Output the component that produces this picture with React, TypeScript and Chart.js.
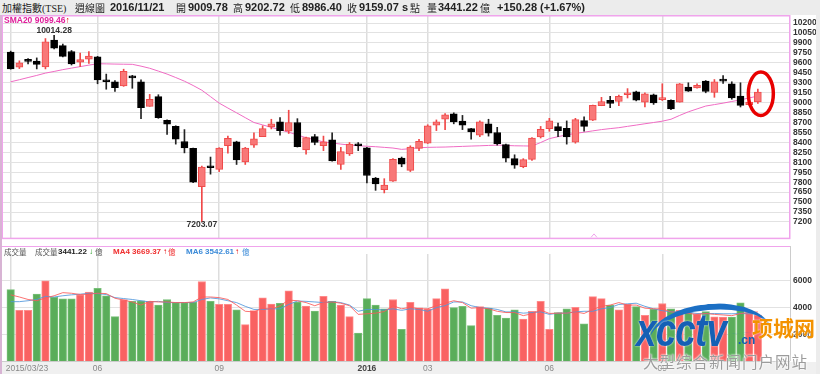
import React, { useEffect, useRef } from 'react';
import { Chart, registerables } from 'chart.js';

Chart.register(...registerables);

// ---------------- data (weekly candles, TAIEX) ----------------
const lastDate = '2016/11/21';
const opens = [9762, 9533, 9628, 9625, 9538, 9942, 9859, 9771, 9611, 9655,
  9689, 9328, 9314, 9250, 9387, 9314, 8944, 9090, 8734, 8642,
  8413, 8310, 7731, 8033, 7994, 8349, 8408, 8106, 8359, 8486,
  8632, 8710, 8569, 8700, 8286, 8486, 8349, 8437, 8067, 8228,
  8374, 8320, 7862, 7687, 7814, 8164, 7979, 8310, 8388, 8661,
  8749, 8831, 8720, 8607, 8510, 8681, 8549, 8369, 8155, 8033,
  8145, 8481, 8607, 8637, 8612, 8403, 8729, 8734, 8953, 9036,
  9017, 9119, 9163, 9007, 9119, 9046, 9036, 9007, 9236, 9221,
  9323, 9153, 9338, 9284, 9099, 8968, 9009.78];
const highs = [9776, 9630, 9664, 9674, 9966, 10014.28, 9883, 9786, 9747, 9771,
  9698, 9430, 9333, 9504, 9411, 9343, 9124, 9119, 8739, 8651,
  8593, 8315, 8043, 8179, 8320, 8495, 8418, 8325, 8544, 8651,
  8749, 8773, 8885, 8758, 8481, 8520, 8495, 8544, 8325, 8398,
  8398, 8325, 7872, 7853, 8155, 8179, 8349, 8447, 8666, 8739,
  8836, 8846, 8807, 8612, 8724, 8749, 8627, 8374, 8213, 8155,
  8471, 8641, 8763, 8690, 8724, 8763, 8787, 8963, 9080, 9095,
  9114, 9211, 9173, 9148, 9129, 9284, 9041, 9289, 9299, 9284,
  9333, 9348, 9406, 9314, 9299, 9022, 9202.72];
const lows = [9504, 9513, 9582, 9508, 9508, 9810, 9689, 9567, 9543, 9591,
  9284, 9202, 9168, 9245, 9216, 8758, 8944, 8763, 8520, 8374,
  8242, 7794, 7203.07, 7921, 7960, 8237, 8067, 8067, 8325, 8486,
  8603, 8510, 8534, 8330, 8223, 8364, 8276, 8116, 7994, 8203,
  8276, 7789, 7677, 7638, 7810, 8033, 7960, 8276, 8383, 8578,
  8593, 8680, 8593, 8447, 8486, 8495, 8359, 8106, 8009, 8018,
  8130, 8466, 8568, 8486, 8374, 8388, 8568, 8729, 8953, 8924,
  8953, 9070, 9026, 8934, 8973, 9031, 8895, 9007, 9168, 9216,
  9148, 9080, 9289, 9051, 8934, 8960, 8986.40];
const closes = [9508, 9601, 9622, 9577, 9918, 9820, 9698, 9582, 9650, 9703,
  9343, 9314, 9226, 9470, 9372, 8924, 9051, 8773, 8676, 8447,
  8315, 7799, 8028, 8018, 8315, 8461, 8135, 8315, 8452, 8607,
  8681, 8578, 8700, 8335, 8471, 8398, 8408, 8120, 8262, 8374,
  8349, 7901, 7775, 7755, 8145, 8072, 8330, 8417, 8651, 8710,
  8817, 8710, 8661, 8559, 8710, 8539, 8379, 8164, 8057, 8140,
  8466, 8598, 8724, 8578, 8481, 8744, 8642, 8958, 9017, 8987,
  9095, 9139, 9036, 9134, 8997, 9060, 8905, 9284, 9172, 9260,
  9168, 9314, 9323, 9070, 8958, 9008.79, 9159.07];
const prevCloseBeforeFirst = 9760;
const sma20 = [9314, 9345, 9378, 9410, 9445, 9470, 9497, 9520, 9543, 9565,
  9586, 9584, 9581, 9579, 9577, 9550, 9518, 9475, 9430, 9378,
  9323, 9258, 9187, 9090, 8992, 8918, 8846, 8773, 8700, 8664,
  8627, 8590, 8554, 8512, 8471, 8440, 8408, 8391, 8374, 8361,
  8349, 8342, 8335, 8325, 8315, 8295, 8305, 8320, 8325, 8328,
  8330, 8335, 8340, 8345, 8349, 8354, 8359, 8354, 8349, 8347,
  8345, 8398, 8457, 8486, 8515, 8535, 8554, 8574, 8593, 8608,
  8622, 8642, 8661, 8681, 8700, 8720, 8749, 8807, 8861, 8905,
  8948, 8970, 8992, 9017, 9041, 9070, 9099.46];
const volumes = [5347, 3790, 3790, 5000, 6000, 4766, 4650, 4650, 4952, 5162,
  5440, 4883, 3325, 4604, 4464, 4511, 4464, 4185, 4604, 4371,
  4371, 4418, 5952, 4464, 4232, 4232, 3836, 2720, 3767, 4720,
  4255, 4325, 5255, 4418, 4115, 3743, 4836, 4464, 4185, 3325,
  2093, 4673, 4185, 3906, 4604, 2372, 4394, 3976, 3906, 4673,
  5394, 3999, 4092, 2650, 4069, 3953, 3418, 3209, 3836, 3139,
  3720, 4464, 2372, 3627, 3906, 4022, 2790, 4813, 4673, 4185,
  3836, 4255, 4069, 3418, 3860, 4301, 3900, 3790, 3600, 3500,
  3700, 3300, 3278, 3292, 4344, 3600, 3441.22];
const ma4 = [4952, 4790, 4604, 4511, 4720, 4883, 5115, 5069, 4976, 4999,
  5069, 5045, 4697, 4557, 4418, 4185, 4464, 4418, 4418, 4371,
  4371, 4418, 4790, 4790, 4743, 4604, 4185, 3720, 3674, 3953,
  3860, 4139, 4557, 4511, 4371, 4139, 4371, 4418, 4325, 4139,
  3488, 3534, 3581, 3700, 4139, 3906, 4022, 3906, 3906, 4139,
  4325, 4511, 4371, 3953, 3999, 3906, 3720, 3627, 3627, 3395,
  3534, 3813, 3557, 3581, 3581, 3674, 3557, 3860, 4092, 4185,
  4371, 4185, 4185, 3953, 3906, 3906, 3674, 3627, 3557, 3488,
  3557, 3488, 3444, 3392, 3553, 3628, 3669.37];
const ma6 = [4441, 4441, 4511, 4604, 4836, 4790, 4883, 4952, 4999, 5069,
  5045, 4976, 4743, 4673, 4604, 4511, 4418, 4464, 4371, 4371,
  4371, 4371, 4604, 4720, 4650, 4511, 4371, 4092, 3860, 3860,
  3906, 3906, 4232, 4488, 4464, 4418, 4371, 4441, 4371, 4185,
  3720, 3860, 3860, 3813, 3906, 3790, 3906, 3860, 3720, 3999,
  4139, 4418, 4418, 4139, 3999, 3953, 3860, 3674, 3674, 3581,
  3627, 3674, 3488, 3581, 3581, 3674, 3720, 3720, 3906, 3999,
  4232, 4278, 4325, 4092, 3906, 3767, 3674, 3674, 3627, 3557,
  3534, 3557, 3534, 3534, 3557, 3534, 3542.61];
const ma4Prev = 3627.9;
const ma6Prev = 3534.0;
const volPrev = 3600;

const priceTicks = [7200, 7350, 7500, 7650, 7800, 7950, 8100, 8250, 8400, 8550, 8700,
  8850, 9000, 9150, 9300, 9450, 9600, 9750, 9900, 10050, 10200];
const volumeTicks = [2000, 4000, 6000];
const xTickIndex = [0, 10, 24, 41, 48, 62, 75];
const xTickLabels = ['2015/03/23', '06', '09', '2016', '03', '06', '09'];

// ---------------- styling ----------------
const PINK = '#f0a4ec';
const GRID = '#e2e2e2';
const NUMFONT = '"Liberation Sans", Arial, sans-serif';
const CJK = '"Noto Sans CJK TC", "Noto Sans CJK SC", sans-serif';
const X_MIN = -1;
const X_MAX = 89.7;

const pricePlugin = {
  id: 'priceDecor',
  afterDraw(chart: any) {
    const { ctx, chartArea: a, scales } = chart;
    const x = scales.x, y = scales.y;
    ctx.save();
    ctx.strokeStyle = PINK;
    ctx.lineWidth = 1.5;
    ctx.strokeRect(a.left + 0.25, a.top + 0.75, a.right - a.left - 0.5, a.bottom - a.top - 0.25);
    let hi = 0, lo = 0;
    highs.forEach((v, i) => { if (v > highs[hi]) hi = i; });
    lows.forEach((v, i) => { if (v < lows[lo]) lo = i; });
    ctx.font = 'bold 8.5px ' + NUMFONT;
    ctx.fillStyle = '#333';
    ctx.textAlign = 'center';
    ctx.textBaseline = 'middle';
    ctx.fillText(highs[hi].toFixed(2), x.getPixelForValue(hi), y.getPixelForValue(highs[hi]) - 5);
    ctx.fillText(lows[lo].toFixed(2), x.getPixelForValue(lo), y.getPixelForValue(lows[lo]) + 2.5);
    const n = closes.length - 1;
    const cx = x.getPixelForValue(n) + 3;
    const cy = y.getPixelForValue((highs[n] + lows[n]) / 2) - 2.6;
    ctx.beginPath();
    ctx.ellipse(cx, cy, 12.5, 21.7, 0, 0, Math.PI * 2);
    ctx.strokeStyle = '#e80000';
    ctx.lineWidth = 3.5;
    ctx.stroke();
    ctx.beginPath();
    ctx.moveTo(591, a.bottom - 0.5);
    ctx.lineTo(594, a.bottom - 4);
    ctx.lineTo(597, a.bottom - 0.5);
    ctx.strokeStyle = PINK;
    ctx.lineWidth = 1;
    ctx.stroke();
    ctx.restore();
  },
};

const volumePlugin = {
  id: 'volDecor',
  afterDraw(chart: any) {
    const { ctx, chartArea: a, scales } = chart;
    const x = scales.x;
    ctx.save();
    ctx.fillStyle = '#f0f0f0';
    ctx.fillRect(0, a.bottom + 1, chart.width, chart.height - a.bottom);
    ctx.strokeStyle = '#cccccc';
    ctx.lineWidth = 1;
    ctx.beginPath();
    ctx.moveTo(0, a.bottom + 0.5);
    ctx.lineTo(a.right, a.bottom + 0.5);
    ctx.moveTo(a.right + 0.5, 0);
    ctx.lineTo(a.right + 0.5, a.bottom);
    ctx.stroke();
    ctx.strokeStyle = PINK;
    ctx.beginPath();
    ctx.moveTo(a.left, 0.5);
    ctx.lineTo(a.right, 0.5);
    ctx.stroke();
    ctx.textBaseline = 'middle';
    xTickIndex.forEach((v, k) => {
      const px = x.getPixelForValue(v);
      const isYear = /^\d{4}$/.test(xTickLabels[k]);
      ctx.font = (isYear ? 'bold ' : '') + '8.5px ' + NUMFONT;
      ctx.fillStyle = isYear ? '#444' : '#888';
      ctx.textAlign = k === 0 ? 'left' : 'center';
      ctx.fillText(xTickLabels[k], k === 0 ? px - 5 : px, a.bottom + 7.5);
    });
    ctx.restore();
  },
};

function xAxis() {
  return {
    type: 'linear',
    min: X_MIN,
    max: X_MAX,
    offset: false,
    grid: { color: '#dddddd', lineWidth: 1.5, drawTicks: false, offset: false },
    border: { display: false },
    ticks: { display: false },
    afterBuildTicks: (s: any) => { s.ticks = xTickIndex.map((v) => ({ value: v })); },
    afterFit: (s: any) => { s.height = 0; },
  };
}

function yTicks() {
  return {
    autoSkip: false,
    padding: 3,
    color: '#333',
    font: { family: NUMFONT, size: 8.5, weight: 'bold' },
    callback: (v: any) => String(v),
  };
}

function Txt({ x, y, h, children, s }: any) {
  return (
    <span style={{ position: 'absolute', left: x, top: y, height: h, lineHeight: h + 'px', whiteSpace: 'nowrap', ...s }}>
      {children}
    </span>
  );
}

export default function App() {
  const pRef = useRef<HTMLCanvasElement | null>(null);
  const vRef = useRef<HTMLCanvasElement | null>(null);

  useEffect(() => {
    const idx = closes.map((_, i) => i);
    const up = idx.map((i) => closes[i] >= opens[i]);
    const volUp = idx.map((i) => closes[i] >= (i === 0 ? prevCloseBeforeFirst : closes[i - 1]));

    const pc = new Chart(pRef.current as HTMLCanvasElement, {
      type: 'bar',
      data: {
        datasets: [
          {
            type: 'line',
            data: idx.map((i) => ({ x: i, y: sma20[i] })),
            borderColor: '#f06cc4',
            borderWidth: 1,
            pointRadius: 0,
            order: 3,
          } as any,
          {
            type: 'bar',
            data: idx.map((i) => ({ x: i, y: [lows[i], highs[i]] })),
            backgroundColor: up.map((u) => (u ? '#f04848' : '#222222')),
            borderWidth: 0,
            barThickness: 1,
            grouped: false,
            order: 2,
          } as any,
          {
            type: 'bar',
            data: idx.map((i) => ({ x: i, y: [Math.min(opens[i], closes[i]), Math.max(opens[i], closes[i])] })),
            backgroundColor: up.map((u) => (u ? '#f87878' : '#000000')),
            borderColor: up.map((u) => (u ? '#f04a4a' : '#000000')),
            borderWidth: 1,
            borderSkipped: false,
            barThickness: 7,
            minBarLength: 2,
            grouped: false,
            order: 1,
          } as any,
        ],
      },
      options: {
        responsive: false,
        animation: false,
        devicePixelRatio: 1,
        layout: { padding: { top: 15, left: 2, right: 0, bottom: 1 } },
        plugins: { legend: { display: false }, tooltip: { enabled: false } },
        scales: {
          x: xAxis() as any,
          y: {
            type: 'linear',
            position: 'right',
            min: 6960,
            max: 10321,
            grid: { color: GRID, drawTicks: false },
            border: { display: false },
            ticks: yTicks(),
            afterBuildTicks: (s: any) => { s.ticks = priceTicks.map((v) => ({ value: v })); },
            afterFit: (s: any) => { s.width = 30; },
          } as any,
        },
      },
      plugins: [pricePlugin],
    });

    const vc = new Chart(vRef.current as HTMLCanvasElement, {
      type: 'bar',
      data: {
        datasets: [
          {
            type: 'line',
            data: idx.map((i) => ({ x: i, y: ma4[i] })),
            borderColor: 'rgba(250,90,90,0.85)',
            borderWidth: 1,
            pointRadius: 0,
            order: 0,
          } as any,
          {
            type: 'line',
            data: idx.map((i) => ({ x: i, y: ma6[i] })),
            borderColor: 'rgba(80,150,220,0.85)',
            borderWidth: 1,
            pointRadius: 0,
            order: 0,
          } as any,
          {
            type: 'bar',
            data: idx.map((i) => ({ x: i, y: volumes[i] })),
            backgroundColor: volUp.map((u) => (u ? '#f96262' : '#5aad5a')),
            borderColor: volUp.map((u) => (u ? '#ff8a8a' : '#78c078')),
            borderWidth: 1,
            borderSkipped: 'start',
            barThickness: 7.5,
            grouped: false,
            order: 1,
          } as any,
        ],
      },
      options: {
        responsive: false,
        animation: false,
        devicePixelRatio: 1,
        layout: { padding: { top: 0, left: 2, right: 0, bottom: 13 } },
        plugins: { legend: { display: false }, tooltip: { enabled: false } },
        scales: {
          x: xAxis() as any,
          y: {
            type: 'linear',
            position: 'right',
            min: 0,
            max: 8000,
            grid: { color: GRID, drawTicks: false },
            border: { display: false },
            ticks: yTicks(),
            afterBuildTicks: (s: any) => { s.ticks = volumeTicks.map((v) => ({ value: v })); },
            afterFit: (s: any) => { s.width = 30; },
          } as any,
        },
      },
      plugins: [volumePlugin],
    });

    return () => {
      pc.destroy();
      vc.destroy();
    };
  }, []);

  const n = closes.length - 1;
  const change = closes[n] - closes[n - 1];
  const pct = (change / closes[n - 1]) * 100;
  const sign = change >= 0 ? '+' : '';
  const num = { fontFamily: NUMFONT, fontWeight: 'bold', fontSize: 11, color: '#222' };
  const cj = { fontFamily: CJK, fontSize: 10, color: '#222' };
  const lg = { fontFamily: CJK, fontSize: 7.5, color: '#555' };
  const lgn = { fontFamily: NUMFONT, fontSize: 8, fontWeight: 'bold' };
  const arrowUp = '\u2191';
  const arrowDown = '\u2193';

  return (
    <div style={{ position: 'fixed', left: 0, top: 0, width: 820, height: 374, background: '#fff', overflow: 'hidden' }}>
      <canvas ref={pRef} width={820} height={246} style={{ position: 'absolute', left: 0, top: 0 }} />
      <canvas ref={vRef} width={820} height={128} style={{ position: 'absolute', left: 0, top: 246 }} />
      <div style={{ position: 'absolute', left: 0, top: 0, width: 820, height: 15, background: '#ececec' }} />
      <div style={{ position: 'absolute', left: 816, top: 0, width: 4, height: 374, background: '#ececec' }} />
      <div style={{ position: 'absolute', left: 0, top: 15, width: 2, height: 359, background: '#d8b4d4' }} />

      <Txt x={2} y={0} h={15} s={cj}>加權指數<span style={{ fontFamily: '"Liberation Serif", serif', fontSize: 10 }}>(TSE)</span></Txt>
      <Txt x={75} y={0} h={15} s={cj}>週線圖</Txt>
      <Txt x={110} y={0} h={15} s={num}>{lastDate}</Txt>
      <Txt x={176} y={0} h={15} s={cj}>開</Txt>
      <Txt x={188} y={0} h={15} s={num}>{opens[n].toFixed(2)}</Txt>
      <Txt x={233} y={0} h={15} s={cj}>高</Txt>
      <Txt x={245} y={0} h={15} s={num}>{highs[n].toFixed(2)}</Txt>
      <Txt x={290} y={0} h={15} s={cj}>低</Txt>
      <Txt x={302} y={0} h={15} s={num}>{lows[n].toFixed(2)}</Txt>
      <Txt x={347} y={0} h={15} s={cj}>收</Txt>
      <Txt x={359} y={0} h={15} s={num}>{closes[n].toFixed(2)}</Txt>
      <Txt x={402} y={0} h={15} s={num}>s</Txt>
      <Txt x={410} y={0} h={15} s={cj}>點</Txt>
      <Txt x={427} y={0} h={15} s={cj}>量</Txt>
      <Txt x={438} y={0} h={15} s={num}>{volumes[n].toFixed(2)}</Txt>
      <Txt x={480} y={0} h={15} s={cj}>億</Txt>
      <Txt x={497} y={0} h={15} s={num}>{sign + change.toFixed(2)}</Txt>
      <Txt x={540} y={0} h={15} s={num}>{'(' + sign + pct.toFixed(2) + '%)'}</Txt>

      <Txt x={4} y={15} h={10} s={{ fontFamily: NUMFONT, fontSize: 8.5, fontWeight: 'bold', color: '#e0209c' }}>
        {'SMA20 ' + sma20[n].toFixed(2)}
        <span style={{ color: '#e00000' }}>{sma20[n] >= sma20[n - 1] ? arrowUp : arrowDown}</span>
      </Txt>

      <Txt x={4} y={246} h={11} s={lg}>成交量</Txt>
      <Txt x={35} y={246} h={11} s={lg}>成交量</Txt>
      <Txt x={58} y={246} h={11} s={{ ...lgn, color: '#222' }}>{volumes[n].toFixed(2)}</Txt>
      <Txt x={89} y={246} h={11} s={{ ...lgn, color: volumes[n] >= volPrev ? '#e00000' : '#1a9a1a' }}>{volumes[n] >= volPrev ? arrowUp : arrowDown}</Txt>
      <Txt x={95} y={246} h={11} s={lg}>億</Txt>
      <Txt x={113} y={246} h={11} s={{ ...lgn, color: '#f03030' }}>{'MA4 ' + ma4[n].toFixed(2)}</Txt>
      <Txt x={163} y={246} h={11} s={{ ...lgn, color: '#e00000' }}>{ma4[n] >= ma4Prev ? arrowUp : arrowDown}</Txt>
      <Txt x={168} y={246} h={11} s={{ ...lg, color: '#f03030' }}>億</Txt>
      <Txt x={186} y={246} h={11} s={{ ...lgn, color: '#3a8ad8' }}>{'MA6 ' + ma6[n].toFixed(2)}</Txt>
      <Txt x={235} y={246} h={11} s={{ ...lgn, color: '#e00000' }}>{ma6[n] >= ma6Prev ? arrowUp : arrowDown}</Txt>
      <Txt x={242} y={246} h={11} s={{ ...lg, color: '#3a8ad8' }}>億</Txt>

      {/* watermark */}
      <div style={{ position: 'absolute', left: 648, top: 304, width: 122, height: 26, borderTop: '6px solid #1b6fc4', borderRadius: '50% 50% 0 0 / 100% 100% 0 0', transform: 'rotate(-5deg)' }} />
      <Txt x={636} y={312} h={36} s={{ fontFamily: NUMFONT, fontWeight: 'bold', fontStyle: 'italic', fontSize: 46, color: '#1560b5', transform: 'scaleX(0.8)', transformOrigin: 'left center', letterSpacing: -1, textShadow: '0 0 2px #fff' }}>xcctv</Txt>
      <Txt x={738} y={334} h={12} s={{ fontFamily: NUMFONT, fontWeight: 'bold', fontSize: 12, color: '#1560b5' }}>.cn</Txt>
      <Txt x={752} y={314} h={26} s={{ fontFamily: '"Noto Sans CJK SC", sans-serif', fontWeight: 'bold', fontSize: 21, color: '#f39200', textShadow: '0 0 2px #fff' }}>项城网</Txt>
      <Txt x={643} y={351} h={20} s={{ fontFamily: '"Noto Sans CJK SC", sans-serif', fontSize: 15.5, letterSpacing: 1, color: '#9c9c9c', textShadow: '0 0 2px #fff, 0 0 2px #fff' }}>大型综合新闻门户网站</Txt>
    </div>
  );
}
